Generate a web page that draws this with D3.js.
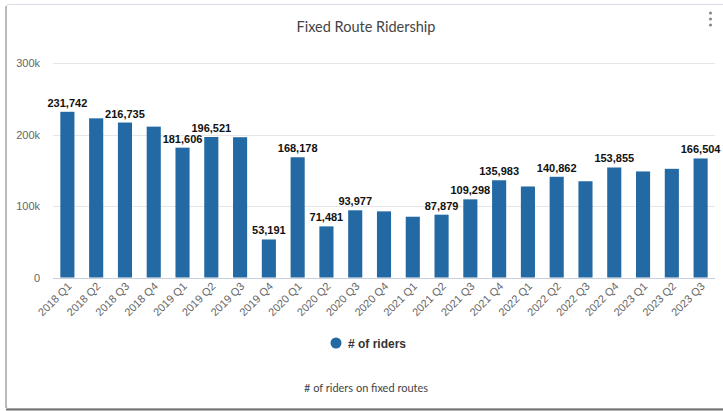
<!DOCTYPE html>
<html><head><meta charset="utf-8">
<script src="https://cdn.jsdelivr.net/npm/d3@7"></script>
<style>
html,body{margin:0;padding:0;background:#fff;}
svg{display:block;}
</style></head>
<body>
<svg id="chart" width="723" height="411"></svg>
<script>
const categories = ["2018 Q1","2018 Q2","2018 Q3","2018 Q4","2019 Q1","2019 Q2","2019 Q3","2019 Q4","2020 Q1","2020 Q2","2020 Q3","2020 Q4","2021 Q1","2021 Q2","2021 Q3","2021 Q4","2022 Q1","2022 Q2","2022 Q3","2022 Q4","2023 Q1","2023 Q2","2023 Q3"];
const riders = [231742,222600,216735,211000,181606,196521,196200,53191,168178,71481,93977,92500,85000,87879,109298,135983,127300,140862,134600,153855,148300,152000,166504];
const showLabel = [1,0,1,0,1,1,0,1,1,1,1,0,0,1,1,1,0,1,0,1,0,0,1];
const yTicks = [0,100000,200000,300000];
const yTickLabels = ["0","100k","200k","300k"];
const seriesName = "# of riders";
const caption = "# of riders on fixed routes";
const title = "Fixed Route Ridership";

const svg = d3.select("#chart");
const W = 723, H = 411;
const barColor = "#2369a3";

// card
svg.append("rect").attr("x",6).attr("y",4.5).attr("width",W+10).attr("height",404)
  .attr("fill","#fff").attr("stroke","#d9dce4").attr("stroke-width",1).attr("rx",3);
svg.append("line").attr("x1",6).attr("x2",6).attr("y1",6).attr("y2",408).attr("stroke","#a9a9a9").attr("stroke-width",1.5);
svg.append("line").attr("x1",6).attr("x2",W).attr("y1",409.5).attr("y2",409.5).attr("stroke","#707070").attr("stroke-width",2);

// kebab
[13,19,25].forEach(cy => svg.append("circle").attr("cx",710.5).attr("cy",cy).attr("r",1.6).attr("fill","#8a8a8a"));

svg.append("text").attr("x",366).attr("y",32).attr("text-anchor","middle")
  .style("font-family","Lato, 'Open Sans', sans-serif").style("font-size","14.5px").attr("fill","#444")
  .text(title);

const x = d3.scaleBand().domain(categories).range([53,715]).paddingInner(0.51).paddingOuter(0.255);
const y = d3.scaleLinear().domain([0,300000]).range([277.5,63]);

// grid
svg.append("g").selectAll("line").data(yTicks).join("line")
  .attr("x1",53).attr("x2",715).attr("y1",d=>Math.round(y(d))+0.5).attr("y2",d=>Math.round(y(d))+0.5)
  .attr("stroke",d=>d===0?"#c8d0e0":"#e6e6e6").attr("stroke-width",1);

// y labels
svg.append("g").selectAll("text").data(yTicks).join("text")
  .attr("x",40).attr("y",d=>y(d)+4).attr("text-anchor","end")
  .style("font-family","'Liberation Sans', Arial, sans-serif").style("font-size","11px").attr("fill","#666")
  .text((d,i)=>yTickLabels[i]);

// bars
svg.append("g").selectAll("rect").data(riders).join("rect")
  .attr("x",(d,i)=>x(categories[i])).attr("width",x.bandwidth())
  .attr("y",d=>y(d)).attr("height",d=>y(0)-y(d)).attr("fill",barColor);

// data labels
const fmt = d3.format(",");
svg.append("g").selectAll("text").data(riders.map((v,i)=>({v,i})).filter(d=>showLabel[d.i])).join("text")
  .attr("x",d=>x(categories[d.i])+x.bandwidth()/2).attr("y",d=>y(d.v)-5)
  .attr("text-anchor","middle")
  .style("font-family","'Liberation Sans', Arial, sans-serif").style("font-size","11px").style("font-weight","bold")
  .attr("fill","#111").text(d=>fmt(d.v));

// x labels
svg.append("g").selectAll("text").data(categories).join("text")
  .attr("transform",d=>`translate(${x(d)+x.bandwidth()/2+5},${287}) rotate(-45)`)
  .attr("text-anchor","end")
  .style("font-family","'Liberation Sans', Arial, sans-serif").style("font-size","11px").attr("fill","#666")
  .text(d=>d);

// legend
svg.append("circle").attr("cx",336).attr("cy",343).attr("r",5.5).attr("fill",barColor);
svg.append("text").attr("x",348).attr("y",347.5)
  .style("font-family","'Liberation Sans', Arial, sans-serif").style("font-size","12px").style("font-weight","bold")
  .attr("fill","#333").text(seriesName);

// caption
svg.append("text").attr("x",366).attr("y",392).attr("text-anchor","middle")
  .style("font-family","Lato, 'Open Sans', sans-serif").style("font-size","11px").attr("fill","#444")
  .text(caption);
</script>
</body></html>
